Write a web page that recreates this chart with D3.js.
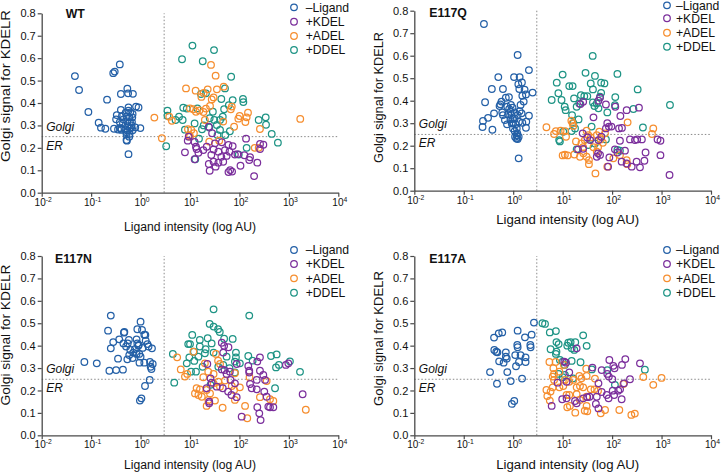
<!DOCTYPE html>
<html><head><meta charset="utf-8">
<script src="https://cdn.jsdelivr.net/npm/d3@7"></script>
<style>
body{margin:0;background:#fff}
svg{display:block}
text{font-family:"Liberation Sans",Arial,Helvetica,sans-serif;fill:#111}
</style>
</head><body>
<svg id="chart" width="722" height="473"></svg>
<script>
// ---------- labels / ticks ----------
const seriesNames = ["\u2013Ligand", "+KDEL", "+ADEL", "+DDEL"];
const seriesColors = ["#2460a7", "#7b2f9c", "#f68e2f", "#1e9485"];
const panelTitles = ["WT", "E117Q", "E117N", "E117A"];
const xTickValues = [1e-2, 1e-1, 1e0, 1e1, 1e2, 1e3, 1e4];
const xTickExponents = ["-2", "-1", "0", "1", "2", "3", "4"];
const yTickValues = [0, 0.1, 0.2, 0.3, 0.4, 0.5, 0.6, 0.7, 0.8];
const xAxisTitle = "Ligand intensity (log AU)";
const yAxisTitle = "Golgi signal for KDELR";
const thresholdX = 3;
const thresholdY = 0.25;

// ---------- data: [ligand intensity, Golgi signal] ----------
const wtLigand = [[0.047,0.52],[0.057,0.458],[0.088,0.36],[0.142,0.312],[0.158,0.29],[0.194,0.285],[0.21,0.415],[0.28,0.533],[0.30,0.54],[0.38,0.572],[0.40,0.44],[0.54,0.464],[0.56,0.443],[0.70,0.441],[0.29,0.285],[0.32,0.327],[0.33,0.346],[0.40,0.369],[0.38,0.315],[0.41,0.285],[0.42,0.342],[0.45,0.327],[0.50,0.357],[0.57,0.38],[0.57,0.366],[0.62,0.358],[0.69,0.351],[0.68,0.336],[0.59,0.336],[0.52,0.339],[0.54,0.318],[0.61,0.315],[0.67,0.315],[0.44,0.309],[0.35,0.282],[0.38,0.288],[0.49,0.282],[0.54,0.277],[0.61,0.285],[0.69,0.279],[0.52,0.259],[0.59,0.25],[0.52,0.235],[0.57,0.172],[0.81,0.384],[0.91,0.38],[0.99,0.288],[0.78,0.291],[0.54,0.297],[0.65,0.291],[0.52,0.27],[0.41,0.28],[0.53,0.232],[0.66,0.30],[0.60,0.262]];
const wtKDEL = [[7.9,0.18],[9.0,0.232],[9.4,0.25],[12.4,0.226],[13.2,0.205],[13.6,0.195],[14.8,0.178],[12.4,0.149],[24,0.294],[28,0.265],[32,0.22],[30,0.193],[44,0.225],[60,0.213],[73,0.208],[63,0.183],[55,0.164],[43,0.16],[27,0.168],[30,0.138],[37.5,0.134],[24,0.128],[33,0.116],[25,0.098],[47,0.138],[65,0.101],[71,0.094],[60,0.092],[105,0.12],[126,0.167],[164,0.158],[158,0.146],[136,0.241],[261,0.217],[305,0.214],[230,0.134],[198,0.074],[81,0.17],[91,0.172],[18.6,0.19],[21.8,0.205],[37.5,0.183],[51,0.19],[261,0.195]];
const wtADEL = [[1.9,0.335],[2.7,0.243],[26.6,0.57],[33,0.522],[8.3,0.465],[13,0.455],[22.8,0.461],[35,0.461],[48,0.473],[17,0.427],[18.9,0.445],[30,0.425],[27.5,0.416],[70,0.384],[67,0.372],[149,0.357],[101,0.342],[95,0.33],[140,0.336],[132,0.315],[78,0.294],[260,0.284],[1700,0.329],[10,0.376],[11.7,0.372],[13.2,0.361],[15.5,0.367],[18.7,0.36],[21,0.375],[25.4,0.387],[3.8,0.339],[4.3,0.321],[9.1,0.283],[10.6,0.28],[12,0.265],[9.7,0.257],[39,0.232],[245,0.20],[204,0.20],[10,0.25],[20,0.324],[47,0.317],[24.5,0.228]];
const wtDDEL = [[11.2,0.656],[30.6,0.636],[6.9,0.595],[18.1,0.586],[68,0.517],[51,0.465],[16.7,0.44],[21,0.443],[43,0.418],[73,0.413],[118,0.418],[120,0.404],[61,0.39],[3.5,0.366],[3.5,0.343],[7.3,0.379],[8.6,0.375],[6.0,0.339],[5.1,0.324],[7.1,0.324],[7.9,0.281],[12.4,0.309],[18.9,0.30],[17.5,0.283],[24.6,0.291],[35,0.302],[40.5,0.324],[46,0.339],[40.5,0.28],[36,0.257],[52,0.257],[64,0.274],[25,0.332],[31,0.324],[49,0.372],[245,0.324],[340,0.336],[345,0.303],[450,0.262],[600,0.223],[3.3,0.207],[15.2,0.241],[140,0.20],[97,0.17],[12.8,0.149],[14.1,0.376],[29,0.361]];

const qLigand = [[0.256,0.741],[1.23,0.603],[0.50,0.505],[0.37,0.452],[0.27,0.393],[0.245,0.31],[0.24,0.283],[0.31,0.324],[0.38,0.271],[0.41,0.344],[0.62,0.452],[0.55,0.384],[0.58,0.396],[0.53,0.376],[0.60,0.348],[0.71,0.413],[0.82,0.416],[0.90,0.381],[0.83,0.363],[0.79,0.339],[0.92,0.336],[1.04,0.505],[1.35,0.505],[1.27,0.473],[1.5,0.481],[2.08,0.536],[1.33,0.452],[1.70,0.449],[1.53,0.422],[1.81,0.428],[1.63,0.396],[1.41,0.381],[1.35,0.354],[1.23,0.336],[1.48,0.344],[2.08,0.333],[2.47,0.436],[1.84,0.307],[1.81,0.28],[1.53,0.302],[1.07,0.321],[0.99,0.299],[1.12,0.295],[1.31,0.307],[1.18,0.277],[1.07,0.265],[1.21,0.255],[1.09,0.24],[1.23,0.23],[1.16,0.232],[1.29,0.144],[0.99,0.321],[0.93,0.299],[0.75,0.295],[0.68,0.314],[0.62,0.336],[0.76,0.373],[0.88,0.351],[1.07,0.348],[0.99,0.277],[0.88,0.318],[0.97,0.369],[1.29,0.24],[1.18,0.247]];
const qKDEL = [[22.9,0.385],[26,0.395],[42,0.326],[53,0.40],[57,0.414],[75,0.383],[116,0.373],[147,0.332],[197,0.358],[349,0.369],[80,0.30],[86,0.285],[75,0.277],[138,0.277],[158,0.279],[25.4,0.255],[31.5,0.237],[36,0.225],[53,0.225],[60.5,0.24],[20.5,0.184],[26,0.186],[52,0.166],[49,0.151],[83,0.107],[88,0.148],[114,0.184],[128,0.17],[182,0.178],[156,0.129],[197,0.121],[230,0.228],[290,0.225],[322,0.228],[400,0.228],[475,0.17],[313,0.129],[366,0.104],[450,0.133],[830,0.228],[950,0.222],[950,0.158],[1450,0.07],[249,0.107],[144,0.222],[97,0.285],[57,0.159]];
const qADEL = [[4.7,0.282],[6.7,0.252],[7.3,0.265],[9.1,0.267],[11.7,0.24],[11.2,0.265],[15,0.311],[15.9,0.30],[16.4,0.288],[10,0.157],[11.1,0.16],[12.6,0.157],[17.2,0.161],[22.4,0.151],[26.2,0.166],[30.5,0.151],[34,0.136],[34,0.118],[46,0.077],[18.6,0.219],[24,0.21],[26,0.193],[30.5,0.267],[33,0.247],[37,0.237],[49,0.247],[55,0.262],[59,0.228],[65,0.213],[72,0.255],[28,0.225],[42,0.193],[52,0.193],[49,0.173],[206,0.304],[680,0.277],[640,0.252],[106,0.144],[144,0.158],[197,0.136],[203,0.118],[80,0.107]];
const qDDEL = [[40.5,0.599],[10,0.516],[29,0.524],[45,0.51],[128,0.519],[7.6,0.48],[13.6,0.465],[15.9,0.465],[37,0.477],[60,0.48],[70,0.477],[41,0.45],[8.2,0.433],[6.0,0.403],[9.5,0.403],[17,0.41],[23.4,0.425],[27.4,0.42],[31.5,0.42],[60,0.435],[116,0.416],[329,0.45],[1480,0.381],[11,0.373],[11.5,0.358],[19.2,0.373],[21.7,0.388],[41,0.392],[44,0.376],[53,0.366],[49,0.388],[57,0.418],[80,0.348],[114,0.38],[270,0.363],[15.5,0.336],[21,0.317],[16.5,0.30],[17.8,0.277],[15.2,0.265],[10.3,0.262],[8.5,0.225],[8.8,0.219],[38.5,0.285],[75,0.228],[144,0.178],[420,0.281],[19.2,0.184],[33,0.203],[45,0.21],[128,0.181]];

const nLigand = [[0.073,0.327],[0.13,0.321],[0.234,0.288],[0.32,0.291],[0.44,0.293],[0.35,0.342],[0.25,0.534],[0.22,0.467],[0.25,0.388],[0.28,0.416],[0.37,0.428],[0.46,0.458],[0.47,0.461],[0.45,0.41],[0.55,0.41],[0.58,0.425],[0.51,0.396],[0.62,0.381],[0.59,0.358],[0.54,0.339],[0.71,0.369],[0.77,0.384],[0.86,0.473],[0.83,0.428],[0.86,0.41],[0.92,0.403],[1.0,0.507],[1.07,0.47],[1.19,0.449],[1.25,0.448],[1.27,0.422],[1.38,0.407],[1.45,0.396],[1.7,0.388],[0.94,0.363],[0.83,0.363],[1.0,0.351],[0.95,0.324],[1.19,0.324],[1.55,0.327],[1.76,0.318],[1.6,0.306],[1.66,0.296],[1.53,0.247],[1.23,0.22],[1.04,0.165],[0.97,0.155],[0.69,0.345],[0.90,0.40],[1.1,0.39]];
const nKDEL = [[44,0.413],[49,0.399],[60,0.393],[47,0.369],[22.4,0.318],[44,0.294],[50,0.291],[88,0.318],[151,0.309],[158,0.288],[230,0.329],[260,0.348],[304,0.269],[330,0.247],[870,0.314],[975,0.321],[55,0.274],[64,0.284],[66,0.247],[81,0.232],[26,0.254],[27.4,0.235],[21.7,0.21],[24.5,0.15],[24.5,0.143],[34.7,0.217],[46,0.21],[59,0.195],[69,0.18],[88,0.17],[164,0.229],[177,0.21],[224,0.205],[318,0.195],[355,0.172],[384,0.128],[415,0.125],[485,0.125],[230,0.125],[252,0.098],[268,0.068],[111,0.083],[1900,0.183],[158,0.28],[224,0.247],[260,0.288]];
const nADEL = [[5.5,0.348],[6.5,0.294],[7.9,0.262],[8.8,0.274],[11.7,0.373],[20,0.321],[18.6,0.259],[23.4,0.284],[30,0.274],[37,0.333],[40.5,0.318],[33.6,0.363],[81,0.277],[13.6,0.21],[15.9,0.205],[12.6,0.187],[14.8,0.18],[17.3,0.172],[21.7,0.202],[25.4,0.187],[23.5,0.158],[21.7,0.131],[32,0.155],[45.7,0.123],[30,0.232],[37.4,0.239],[40.5,0.217],[70,0.22],[78,0.202],[102,0.214],[130,0.131],[144,0.076],[260,0.17],[415,0.161],[485,0.153],[355,0.242],[2200,0.114],[160,0.259],[51,0.244],[81,0.158]];
const nDDEL = [[30,0.562],[158,0.534],[25,0.497],[30,0.485],[37,0.473],[40,0.461],[11.1,0.448],[22.8,0.433],[27.4,0.41],[49,0.431],[73,0.43],[9.2,0.407],[10,0.407],[15.8,0.425],[15.8,0.396],[20.7,0.384],[12,0.373],[20,0.366],[30,0.369],[4.5,0.363],[8.6,0.321],[9.7,0.348],[12.2,0.332],[14.8,0.351],[10.5,0.284],[13.2,0.284],[18,0.306],[37.4,0.306],[47,0.314],[63,0.299],[81,0.329],[85,0.369],[85,0.348],[151,0.354],[185,0.333],[435,0.354],[566,0.361],[550,0.303],[630,0.314],[1050,0.33],[1680,0.283],[4.8,0.235],[525,0.21],[81,0.28],[26,0.225],[55,0.351],[102,0.321]];

const aLigand = [[2.63,0.503],[0.41,0.436],[0.51,0.455],[0.60,0.459],[0.415,0.381],[0.455,0.373],[0.48,0.37],[0.71,0.37],[0.64,0.324],[0.52,0.33],[0.74,0.342],[0.76,0.282],[0.34,0.282],[0.47,0.23],[0.89,0.242],[0.94,0.14],[1.05,0.153],[1.23,0.467],[1.21,0.403],[1.23,0.393],[1.1,0.358],[1.41,0.358],[1.31,0.327],[1.78,0.348],[1.78,0.327],[1.14,0.308],[1.51,0.253],[1.73,0.437],[2.36,0.449],[2.22,0.403],[2.25,0.393],[0.71,0.351]];
const aKDEL = [[19.2,0.388],[10.8,0.329],[11.7,0.324],[88,0.336],[185,0.34],[366,0.321],[106,0.31],[112,0.299],[158,0.314],[61.5,0.291],[40,0.302],[80,0.274],[86,0.262],[101,0.25],[230,0.25],[174,0.232],[13.6,0.281],[12,0.239],[7.9,0.235],[53,0.232],[49,0.172],[61.5,0.193],[78,0.18],[103,0.199],[133,0.199],[145,0.205],[85,0.165],[110,0.18],[156,0.161],[9.8,0.161],[12,0.165],[19.2,0.143],[17.8,0.153],[26,0.165],[31.5,0.17],[35,0.172],[47,0.14],[53,0.12],[6,0.131]];
const aADEL = [[5.4,0.327],[7.2,0.327],[10.6,0.314],[6.5,0.299],[6.7,0.274],[6.3,0.262],[6.7,0.247],[8.6,0.284],[4.7,0.202],[4.9,0.175],[5.5,0.155],[6.3,0.214],[5.7,0.195],[8.6,0.214],[11.1,0.247],[13.6,0.239],[16.4,0.247],[21.7,0.265],[30,0.297],[45,0.253],[22.4,0.22],[26,0.214],[19.2,0.214],[13.6,0.18],[12,0.18],[19.2,0.184],[22.4,0.158],[12.4,0.125],[14,0.131],[18,0.101],[28,0.11],[31.5,0.107],[30.5,0.131],[30.5,0.172],[37,0.205],[52,0.199],[59,0.098],[72,0.113],[140,0.113],[245,0.091],[288,0.097],[427,0.26],[680,0.225],[1000,0.256],[169,0.229],[30.5,0.265],[44,0.205],[24,0.254],[10.3,0.22]];
const aDDEL = [[3.9,0.5],[4.4,0.497],[7.3,0.465],[5.5,0.459],[26,0.446],[7.5,0.416],[8.3,0.407],[13,0.413],[14.5,0.416],[18,0.415],[12.4,0.4],[30.6,0.399],[15.2,0.388],[17.2,0.381],[5.7,0.384],[7.5,0.373],[7.3,0.363],[8.8,0.336],[10,0.329],[15.2,0.332],[23,0.326],[11,0.314],[39,0.294],[80,0.291],[460,0.293],[8.3,0.274],[10,0.259],[16.4,0.254],[11.1,0.269],[114,0.225]];

// ---------- layout ----------
const panels = [
  {title: panelTitles[0], series: [wtLigand, wtKDEL, wtADEL, wtDDEL],
   x0: 41.7, x1: 338.3, y0: 13.3, y1: 192.7, titleX: 65.7, titleY: 18.3,
   legCx: 294, legTx: 305.7, legRows: [7.3, 21.7, 36, 50],
   yTitleX: 10, yTitleCy: 86, yTitleLen: 152, xTitleCx: 190, xTitleY: 230.7, xTitleLen: 132},
  {title: panelTitles[1], series: [qLigand, qKDEL, qADEL, qDDEL],
   x0: 414.3, x1: 711, y0: 10.7, y1: 190.7, titleX: 429.3, titleY: 17.3,
   legCx: 667, legTx: 676, legRows: [5.3, 18.3, 32.7, 46.7],
   yTitleX: 382.5, yTitleCy: 97.5, yTitleLen: 131, xTitleCx: 567.7, xTitleY: 224, xTitleLen: 143},
  {title: panelTitles[2], series: [nLigand, nKDEL, nADEL, nDDEL],
   x0: 41.7, x1: 338.3, y0: 256, y1: 435.3, titleX: 55, titleY: 262.7,
   legCx: 294, legTx: 305.7, legRows: [250, 264, 278.3, 292.7],
   yTitleX: 10, yTitleCy: 335, yTitleLen: 141, xTitleCx: 190, xTitleY: 468.7, xTitleLen: 132},
  {title: panelTitles[3], series: [aLigand, aKDEL, aADEL, aDDEL],
   x0: 414.3, x1: 711, y0: 256, y1: 435.3, titleX: 429.3, titleY: 262.7,
   legCx: 667, legTx: 676, legRows: [250, 264, 278.3, 292.7],
   yTitleX: 382.5, yTitleCy: 338.5, yTitleLen: 135, xTitleCx: 567.7, xTitleY: 469, xTitleLen: 143}
];

const svg = d3.select("#chart");
const axisColor = "#4a4a4a";
const drawOrder = [0, 3, 2, 1];
const R = 3.3;

panels.forEach(p => {
  const x = d3.scaleLog().domain([1e-2, 1e4]).range([p.x0, p.x1]);
  const y = d3.scaleLinear().domain([0, 0.8]).range([p.y1, p.y0]);
  const g = svg.append("g");

  // reference lines
  g.append("line").attr("x1", x(thresholdX)).attr("x2", x(thresholdX))
    .attr("y1", y(0)).attr("y2", y(0.8))
    .attr("stroke", "#8a8a8a").attr("stroke-width", 1).attr("stroke-dasharray", "1.5,2");
  g.append("line").attr("x1", x(1e-2)).attr("x2", x(1e4))
    .attr("y1", y(thresholdY)).attr("y2", y(thresholdY))
    .attr("stroke", "#8a8a8a").attr("stroke-width", 1).attr("stroke-dasharray", "1.5,2");

  // axes
  const yAxis = d3.axisLeft(y).tickValues(yTickValues).tickFormat(d3.format(".1f")).tickSize(4).tickSizeOuter(0);
  const gy = g.append("g").attr("transform", `translate(${p.x0},0)`).call(yAxis);
  gy.select(".domain").attr("stroke", axisColor).attr("stroke-width", 1.3);
  gy.selectAll(".tick line").attr("stroke", axisColor).attr("stroke-width", 1.2);
  gy.selectAll(".tick text").attr("x", -6).attr("font-size", 11)
    .attr("font-family", '"Liberation Sans",Arial,sans-serif').attr("fill", "#111");

  const xAxis = d3.axisBottom(x).tickValues(xTickValues).tickFormat(() => "").tickSize(4).tickSizeOuter(0);
  const gx = g.append("g").attr("transform", `translate(0,${p.y1})`).call(xAxis);
  gx.select(".domain").attr("stroke", axisColor).attr("stroke-width", 1.3);
  gx.selectAll(".tick line").attr("stroke", axisColor).attr("stroke-width", 1.2);
  gx.selectAll(".tick text").each(function(d, i) {
    const t = d3.select(this).attr("y", 13).attr("dy", 0).attr("x", 1)
      .attr("font-size", 10).attr("fill", "#111")
      .attr("font-family", '"Liberation Sans",Arial,sans-serif').text(null);
    t.append("tspan").text("10");
    t.append("tspan").attr("font-size", 6.8).attr("dy", -4).text(xTickExponents[i]);
  });

  // Golgi / ER labels
  g.append("text").attr("x", p.x0 + 4.5).attr("y", y(thresholdY) - 6)
    .attr("font-size", 12).attr("font-style", "italic").text("Golgi");
  g.append("text").attr("x", p.x0 + 4.5).attr("y", y(thresholdY) + 13)
    .attr("font-size", 12).attr("font-style", "italic").text("ER");

  // points
  drawOrder.forEach(si => {
    g.append("g").selectAll("circle").data(p.series[si]).join("circle")
      .attr("cx", d => x(d[0])).attr("cy", d => y(d[1])).attr("r", R)
      .attr("fill", "none").attr("stroke", seriesColors[si]).attr("stroke-width", 1.25);
  });

  // title
  g.append("text").attr("x", p.titleX).attr("y", p.titleY)
    .attr("font-size", 12.3).attr("font-weight", "bold").text(p.title);

  // legend
  seriesNames.forEach((name, si) => {
    g.append("circle").attr("cx", p.legCx).attr("cy", p.legRows[si]).attr("r", R)
      .attr("fill", "none").attr("stroke", seriesColors[si]).attr("stroke-width", 1.25);
    g.append("text").attr("x", p.legTx).attr("y", p.legRows[si]).attr("dy", "0.36em")
      .attr("font-size", 12.2).text(name);
  });

  // axis titles
  g.append("text").attr("x", p.xTitleCx).attr("y", p.xTitleY).attr("text-anchor", "middle")
    .attr("font-size", 12).attr("textLength", p.xTitleLen).attr("lengthAdjust", "spacingAndGlyphs")
    .text(xAxisTitle);
  g.append("text").attr("transform", `translate(${p.yTitleX},${p.yTitleCy}) rotate(-90)`)
    .attr("text-anchor", "middle").attr("font-size", 12.5)
    .attr("textLength", p.yTitleLen).attr("lengthAdjust", "spacingAndGlyphs")
    .text(yAxisTitle);
});
</script>
</body></html>
